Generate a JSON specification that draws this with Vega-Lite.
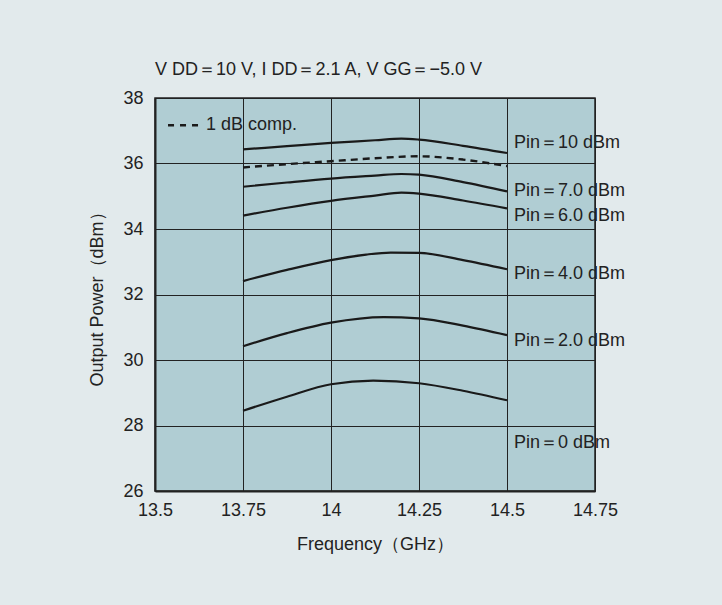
{
  "$schema": "https://vega.github.io/schema/vega-lite/v6.json",
  "width": 440,
  "height": 393,
  "autosize": {"type": "none"},
  "padding": {"left": 155, "top": 98, "right": 127, "bottom": 114},
  "background": "#e2eaec",
  "title": {
    "text": "V DD＝10 V,  I DD＝2.1 A,  V GG＝−5.0 V",
    "anchor": "start",
    "frame": "group",
    "fontSize": 18,
    "font": "Liberation Sans",
    "fontWeight": "normal",
    "color": "#222222",
    "offset": 10
  },
  "config": {
    "font": "Liberation Sans",
    "view": {"fill": "#b0cdd3", "stroke": "#222222", "strokeWidth": 1.5}
  },
  "datasets": {
    "curves": [
      {"f": 13.75, "p": 36.43, "s": "10", "d": "solid"},
      {"f": 13.875, "p": 36.53, "s": "10", "d": "solid"},
      {"f": 14.0, "p": 36.63, "s": "10", "d": "solid"},
      {"f": 14.125, "p": 36.71, "s": "10", "d": "solid"},
      {"f": 14.2, "p": 36.76, "s": "10", "d": "solid"},
      {"f": 14.25, "p": 36.73, "s": "10", "d": "solid"},
      {"f": 14.375, "p": 36.54, "s": "10", "d": "solid"},
      {"f": 14.5, "p": 36.32, "s": "10", "d": "solid"},
      {"f": 13.75, "p": 35.29, "s": "7", "d": "solid"},
      {"f": 13.875, "p": 35.42, "s": "7", "d": "solid"},
      {"f": 14.0, "p": 35.54, "s": "7", "d": "solid"},
      {"f": 14.125, "p": 35.63, "s": "7", "d": "solid"},
      {"f": 14.2, "p": 35.68, "s": "7", "d": "solid"},
      {"f": 14.25, "p": 35.66, "s": "7", "d": "solid"},
      {"f": 14.375, "p": 35.43, "s": "7", "d": "solid"},
      {"f": 14.5, "p": 35.15, "s": "7", "d": "solid"},
      {"f": 13.75, "p": 34.41, "s": "6", "d": "solid"},
      {"f": 13.875, "p": 34.65, "s": "6", "d": "solid"},
      {"f": 14.0, "p": 34.86, "s": "6", "d": "solid"},
      {"f": 14.125, "p": 35.02, "s": "6", "d": "solid"},
      {"f": 14.2, "p": 35.11, "s": "6", "d": "solid"},
      {"f": 14.25, "p": 35.08, "s": "6", "d": "solid"},
      {"f": 14.375, "p": 34.87, "s": "6", "d": "solid"},
      {"f": 14.5, "p": 34.63, "s": "6", "d": "solid"},
      {"f": 13.75, "p": 32.41, "s": "4", "d": "solid"},
      {"f": 13.875, "p": 32.75, "s": "4", "d": "solid"},
      {"f": 14.0, "p": 33.05, "s": "4", "d": "solid"},
      {"f": 14.1, "p": 33.22, "s": "4", "d": "solid"},
      {"f": 14.17, "p": 33.28, "s": "4", "d": "solid"},
      {"f": 14.25, "p": 33.27, "s": "4", "d": "solid"},
      {"f": 14.375, "p": 33.05, "s": "4", "d": "solid"},
      {"f": 14.5, "p": 32.77, "s": "4", "d": "solid"},
      {"f": 13.75, "p": 30.42, "s": "2", "d": "solid"},
      {"f": 13.875, "p": 30.82, "s": "2", "d": "solid"},
      {"f": 14.0, "p": 31.14, "s": "2", "d": "solid"},
      {"f": 14.15, "p": 31.31, "s": "2", "d": "solid"},
      {"f": 14.25, "p": 31.27, "s": "2", "d": "solid"},
      {"f": 14.375, "p": 31.05, "s": "2", "d": "solid"},
      {"f": 14.5, "p": 30.76, "s": "2", "d": "solid"},
      {"f": 13.75, "p": 28.45, "s": "0", "d": "solid"},
      {"f": 13.875, "p": 28.88, "s": "0", "d": "solid"},
      {"f": 14.0, "p": 29.26, "s": "0", "d": "solid"},
      {"f": 14.12, "p": 29.37, "s": "0", "d": "solid"},
      {"f": 14.25, "p": 29.29, "s": "0", "d": "solid"},
      {"f": 14.375, "p": 29.06, "s": "0", "d": "solid"},
      {"f": 14.5, "p": 28.77, "s": "0", "d": "solid"},
      {"f": 13.75, "p": 35.88, "s": "comp", "d": "dash"},
      {"f": 13.875, "p": 35.98, "s": "comp", "d": "dash"},
      {"f": 14.0, "p": 36.07, "s": "comp", "d": "dash"},
      {"f": 14.125, "p": 36.16, "s": "comp", "d": "dash"},
      {"f": 14.25, "p": 36.22, "s": "comp", "d": "dash"},
      {"f": 14.375, "p": 36.12, "s": "comp", "d": "dash"},
      {"f": 14.5, "p": 35.92, "s": "comp", "d": "dash"}
    ],
    "labels": [
      {"f": 14.52, "p": 36.62, "t": "Pin＝10 dBm"},
      {"f": 14.52, "p": 35.15, "t": "Pin＝7.0 dBm"},
      {"f": 14.52, "p": 34.39, "t": "Pin＝6.0 dBm"},
      {"f": 14.52, "p": 32.62, "t": "Pin＝4.0 dBm"},
      {"f": 14.52, "p": 30.58, "t": "Pin＝2.0 dBm"},
      {"f": 14.52, "p": 27.46, "t": "Pin＝0 dBm"}
    ],
    "legendLine": [
      {"f": 13.537, "p": 37.17},
      {"f": 13.628, "p": 37.17}
    ],
    "legendText": [
      {"f": 13.645, "p": 37.17, "t": "1 dB comp."}
    ]
  },
  "encoding": {
    "x": {
      "field": "f",
      "type": "quantitative",
      "scale": {"domain": [13.5, 14.75], "nice": false, "zero": false},
      "axis": {
        "values": [13.5, 13.75, 14, 14.25, 14.5, 14.75],
        "format": ".2~f",
        "grid": true,
        "gridColor": "#222222",
        "gridOpacity": 1,
        "gridWidth": 1,
        "domainColor": "#222222",
        "domainWidth": 2,
        "ticks": false,
        "labelPadding": 10,
        "labelFontSize": 18,
        "labelColor": "#222222",
        "labelFlush": false,
        "labelOverlap": false,
        "title": "Frequency（GHz）",
        "titleFontSize": 18,
        "titleFontWeight": "normal",
        "titleColor": "#222222",
        "titlePadding": 16
      }
    },
    "y": {
      "field": "p",
      "type": "quantitative",
      "scale": {"domain": [26, 38], "nice": false, "zero": false},
      "axis": {
        "values": [26, 28, 30, 32, 34, 36, 38],
        "grid": true,
        "gridColor": "#222222",
        "gridOpacity": 1,
        "gridWidth": 1,
        "domainColor": "#222222",
        "domainWidth": 2,
        "ticks": false,
        "labelPadding": 12,
        "labelFontSize": 18,
        "labelColor": "#222222",
        "labelFlush": false,
        "labelOverlap": false,
        "title": "Output Power（dBm）",
        "titleFontSize": 18,
        "titleFontWeight": "normal",
        "titleColor": "#222222",
        "titlePadding": 16
      }
    }
  },
  "layer": [
    {
      "data": {"name": "curves"},
      "transform": [{"filter": "datum.d === 'solid'"}],
      "mark": {"type": "line", "interpolate": "monotone", "color": "#1a1a1a", "strokeWidth": 2.2},
      "encoding": {"detail": {"field": "s", "type": "nominal"}}
    },
    {
      "data": {"name": "curves"},
      "transform": [{"filter": "datum.d === 'dash'"}],
      "mark": {"type": "line", "interpolate": "monotone", "color": "#1a1a1a", "strokeWidth": 2.4, "strokeDash": [7, 5]},
      "encoding": {"detail": {"field": "s", "type": "nominal"}}
    },
    {
      "data": {"name": "legendLine"},
      "mark": {"type": "line", "color": "#1a1a1a", "strokeWidth": 2.4, "strokeDash": [6, 6]},
      "encoding": {}
    },
    {
      "data": {"name": "legendText"},
      "mark": {"type": "text", "align": "left", "baseline": "middle", "fontSize": 18, "color": "#222222", "font": "Liberation Sans"},
      "encoding": {"text": {"field": "t"}}
    },
    {
      "data": {"name": "labels"},
      "mark": {"type": "text", "align": "left", "baseline": "middle", "fontSize": 18, "color": "#222222", "font": "Liberation Sans"},
      "encoding": {"text": {"field": "t"}}
    }
  ]
}
